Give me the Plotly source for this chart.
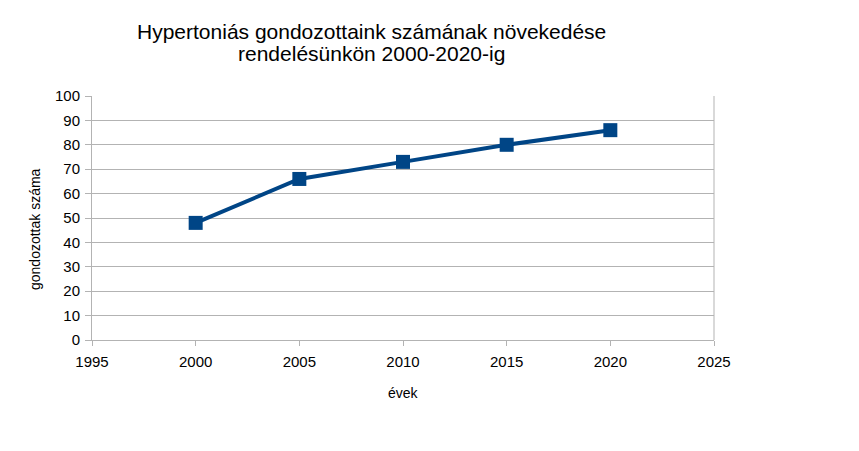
import plotly.graph_objects as go

# data
years = [2000, 2005, 2010, 2015, 2020]
patients = [48, 66, 73, 80, 86]

title_lines = ["Hypertoniás gondozottaink számának növekedése",
               "rendelésünkön 2000-2020-ig"]
x_title = "évek"
y_title = "gondozottak száma"

blue = "#004586"
grid = "#b3b3b3"

# plot area in page pixels (page has an 8px body margin)
L, R, T, B = 84, 706, 88, 332
W, H = 859, 451
pw, ph = R - L, B - T

fig = go.Figure()
fig.add_trace(go.Scatter(
    x=years, y=patients, mode="lines+markers",
    line=dict(color=blue, width=4),
    marker=dict(symbol="square", size=14, color=blue),
    showlegend=False,
))

fig.update_layout(
    width=W, height=H,
    margin=dict(l=L, r=W - R, t=T, b=H - B),
    paper_bgcolor="white", plot_bgcolor="white",
    font=dict(family="Liberation Sans, Arial, sans-serif", color="black", size=15),
)

# title, two lines placed separately to keep the tight line spacing
for txt, yc in zip(title_lines, [23, 46]):
    fig.add_annotation(text=txt, xref="paper", yref="paper",
                       x=(363 - L) / pw, y=(B - yc) / ph,
                       xanchor="center", yanchor="middle",
                       showarrow=False, font=dict(size=21))

# axis titles
fig.add_annotation(text=x_title, xref="paper", yref="paper",
                   x=(395 - L) / pw, y=(B - 385) / ph,
                   xanchor="center", yanchor="middle",
                   showarrow=False, font=dict(size=14))
fig.add_annotation(text=y_title, xref="paper", yref="paper",
                   x=(27 - L) / pw, y=(B - 221) / ph, textangle=-90,
                   xanchor="center", yanchor="middle",
                   showarrow=False, font=dict(size=14))

fig.update_xaxes(
    range=[1995, 2025], dtick=5, tick0=1995,
    showgrid=False, showline=True, linecolor=grid, linewidth=1,
    ticks="outside", ticklen=5, tickcolor=grid, ticklabelstandoff=3,
    zeroline=False,
)
fig.update_yaxes(
    range=[0, 100], dtick=10,
    showgrid=True, gridcolor=grid, gridwidth=1,
    showline=True, linecolor=grid, linewidth=1,
    ticks="outside", ticklen=6, tickcolor=grid, ticklabelstandoff=2,
    zeroline=False,
)
# right border of plot area
fig.add_shape(type="line", xref="paper", yref="paper", x0=1, x1=1, y0=0, y1=1,
              line=dict(color=grid, width=1))

fig.write_html("out.html")
